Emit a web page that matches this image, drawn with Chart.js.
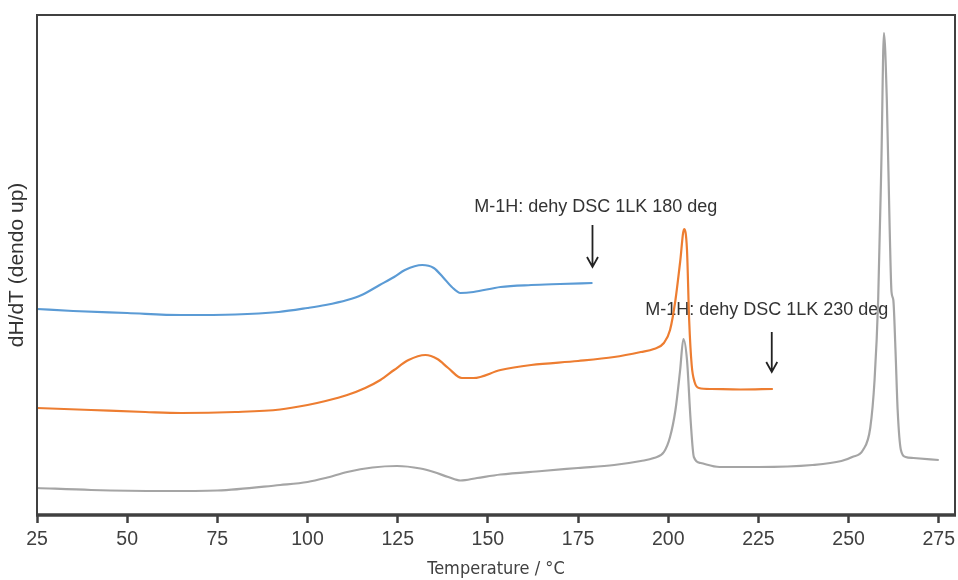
<!DOCTYPE html>
<html>
<head>
<meta charset="utf-8">
<script src="https://cdn.jsdelivr.net/npm/chart.js@4.4.1/dist/chart.umd.min.js"></script>
<style>
  body { margin: 0; background: #fff; }
  #wrap { width: 958px; height: 580px; position: relative; }
</style>
</head>
<body>
<div id="wrap"><canvas id="dsc-chart"></canvas></div>
<script>
// temperatures (°C) and heat flow (arbitrary units, endo up)
const blueTemp = [25, 35, 50, 65, 80, 92, 100, 105, 111, 115, 120, 124, 127, 131.8, 135, 137.5, 140, 142.4, 146, 153.5, 162, 170, 179];
const blueFlow = [41.2, 40.8, 40.4, 40.0, 40.1, 40.6, 41.4, 42.0, 43.0, 44.0, 46.0, 47.6, 49.0, 50.0, 49.4, 47.6, 45.6, 44.4, 44.6, 45.6, 46.0, 46.2, 46.4];

const orangeTemp = [25, 40, 55, 65, 80, 92.4, 100, 105, 111, 116, 120.2, 124, 128, 132.7, 136, 139, 142.8, 146, 153.5, 162, 175, 185, 192.4, 196, 198.8, 200.5, 202, 203.3, 204.4, 205.2, 205.8, 206.5, 207.3, 208.5, 212, 220, 229];
const orangeFlow = [21.4, 21.0, 20.6, 20.4, 20.6, 21.1, 22.0, 22.8, 24.0, 25.4, 27.0, 29.0, 31.0, 32.0, 31.2, 29.4, 27.4, 27.4, 29.0, 30.0, 30.8, 31.6, 32.6, 33.2, 34.4, 37.0, 43.0, 50.6, 57.2, 53.0, 39.0, 30.0, 26.6, 25.4, 25.2, 25.1, 25.2];

const grayTemp = [25, 40, 60, 75, 92.4, 100, 105, 111, 118, 124.8, 131.3, 135, 139, 142.4, 147, 153.5, 165, 175, 185, 192.4, 196, 198.8, 200.5, 202, 203.3, 204.2, 205.2, 206.2, 207.1, 209, 214.2, 225, 240, 248, 251, 254, 256, 257.2, 258.2, 259.1, 259.8, 260.6, 261.4, 261.9, 262.4, 263, 263.6, 264.5, 265.8, 268, 275];
const grayFlow = [5.4, 5.0, 4.8, 4.9, 6.0, 6.6, 7.4, 8.6, 9.5, 9.8, 9.3, 8.6, 7.6, 6.9, 7.4, 8.1, 8.8, 9.4, 10.0, 10.8, 11.4, 12.6, 15.6, 21.0, 29.0, 35.2, 31.0, 19.0, 11.6, 10.4, 9.6, 9.6, 10.0, 10.8, 11.6, 13.0, 17.4, 27.0, 43.0, 71.0, 96.4, 83.0, 57.0, 44.6, 43.0, 33.0, 21.0, 13.0, 11.6, 11.4, 11.0];

const xTicks = [25, 50, 75, 100, 125, 150, 175, 200, 225, 250, 275];

// annotations
const noteTexts = ['M-1H: dehy DSC 1LK 180 deg', 'M-1H: dehy DSC 1LK 230 deg'];
const noteX = [179.9, 227.3];
const noteY = [61.6, 41];
const arrowX = [179, 228.7];
const arrowTop = [58, 36.6];
const arrowBottom = [49.6, 28.6];

function toPoints(xs, ys) {
    return xs.map((x, i) => ({ x: x, y: ys[i] }));
}

const frameColor = '#404040';

const framePlugin = {
    id: 'frame',
    beforeDatasetsDraw(chart) {
        const ctx = chart.ctx;
        const xs = chart.scales.x, ys = chart.scales.y;
        ctx.save();
        ctx.fillStyle = '#333';
        ctx.font = '18px "Liberation Sans", Arial, sans-serif';
        ctx.textAlign = 'center';
        ctx.textBaseline = 'middle';
        noteTexts.forEach((t, i) => {
            ctx.fillText(t, xs.getPixelForValue(noteX[i]), ys.getPixelForValue(noteY[i]));
        });
        ctx.strokeStyle = '#222';
        ctx.lineWidth = 1.8;
        arrowX.forEach((ax, i) => {
            const px = xs.getPixelForValue(ax);
            const top = ys.getPixelForValue(arrowTop[i]);
            const bot = ys.getPixelForValue(arrowBottom[i]);
            ctx.beginPath();
            ctx.moveTo(px, top);
            ctx.lineTo(px, bot);
            ctx.moveTo(px - 5.5, bot - 10);
            ctx.lineTo(px, bot);
            ctx.lineTo(px + 5.5, bot - 10);
            ctx.stroke();
        });
        ctx.restore();
    },
    afterDraw(chart) {
        const { left, right, top, bottom } = chart.chartArea;
        const ctx = chart.ctx;
        ctx.save();
        ctx.strokeStyle = frameColor;
        ctx.lineWidth = 2;
        ctx.beginPath();
        ctx.moveTo(left, bottom);
        ctx.lineTo(left, top);
        ctx.lineTo(right, top);
        ctx.lineTo(right, bottom);
        ctx.stroke();
        ctx.lineWidth = 3.5;
        ctx.beginPath();
        ctx.moveTo(left - 1, bottom);
        ctx.lineTo(right + 1, bottom);
        ctx.stroke();
        ctx.restore();
    }
};

const lineStyle = {
    fill: false,
    borderWidth: 2.2,
    pointRadius: 0,
    cubicInterpolationMode: 'monotone'
};

new Chart(document.getElementById('dsc-chart').getContext('2d'), {
    type: 'line',
    data: {
        datasets: [
            Object.assign({ label: '180 deg', data: toPoints(blueTemp, blueFlow), borderColor: '#5B9BD5' }, lineStyle),
            Object.assign({ label: '230 deg', data: toPoints(orangeTemp, orangeFlow), borderColor: '#ED7D31' }, lineStyle),
            Object.assign({ label: 'raw', data: toPoints(grayTemp, grayFlow), borderColor: '#A5A5A5' }, lineStyle)
        ]
    },
    options: {
        responsive: true,
        maintainAspectRatio: false,
        animation: false,
        layout: { padding: { left: 0, right: 0, top: 15, bottom: 0 } },
        plugins: { legend: { display: false }, tooltip: { enabled: false } },
        scales: {
            x: {
                type: 'linear',
                min: 25,
                max: 279.5,
                afterFit(s) { s.height = 65; s.paddingRight = 3; },
                afterBuildTicks(s) { s.ticks = xTicks.map(v => ({ value: v })); },
                ticks: {
                    color: '#404040',
                    font: { family: '"Liberation Sans", Arial, sans-serif', size: 19.5 },
                    padding: 5,
                    maxRotation: 0
                },
                grid: {
                    drawOnChartArea: false,
                    drawTicks: true,
                    tickLength: 8,
                    tickWidth: 2.5,
                    tickColor: frameColor
                },
                border: { display: false },
                title: {
                    display: true,
                    text: 'Temperature / °C',
                    color: '#404040',
                    font: { family: '"Liberation Sans Narrow", "DejaVu Sans Condensed", sans-serif', size: 18 },
                    padding: { top: 0, bottom: 0 }
                }
            },
            y: {
                min: 0,
                max: 100,
                afterFit(s) { s.width = 37; },
                ticks: { display: false },
                grid: { display: false },
                border: { display: false },
                title: {
                    display: true,
                    text: 'dH/dT (dendo up)',
                    color: '#333',
                    font: { family: '"Liberation Sans", Arial, sans-serif', size: 21 },
                    padding: { top: 5, bottom: 0 }
                }
            }
        }
    },
    plugins: [framePlugin]
});
</script>
</body>
</html>
